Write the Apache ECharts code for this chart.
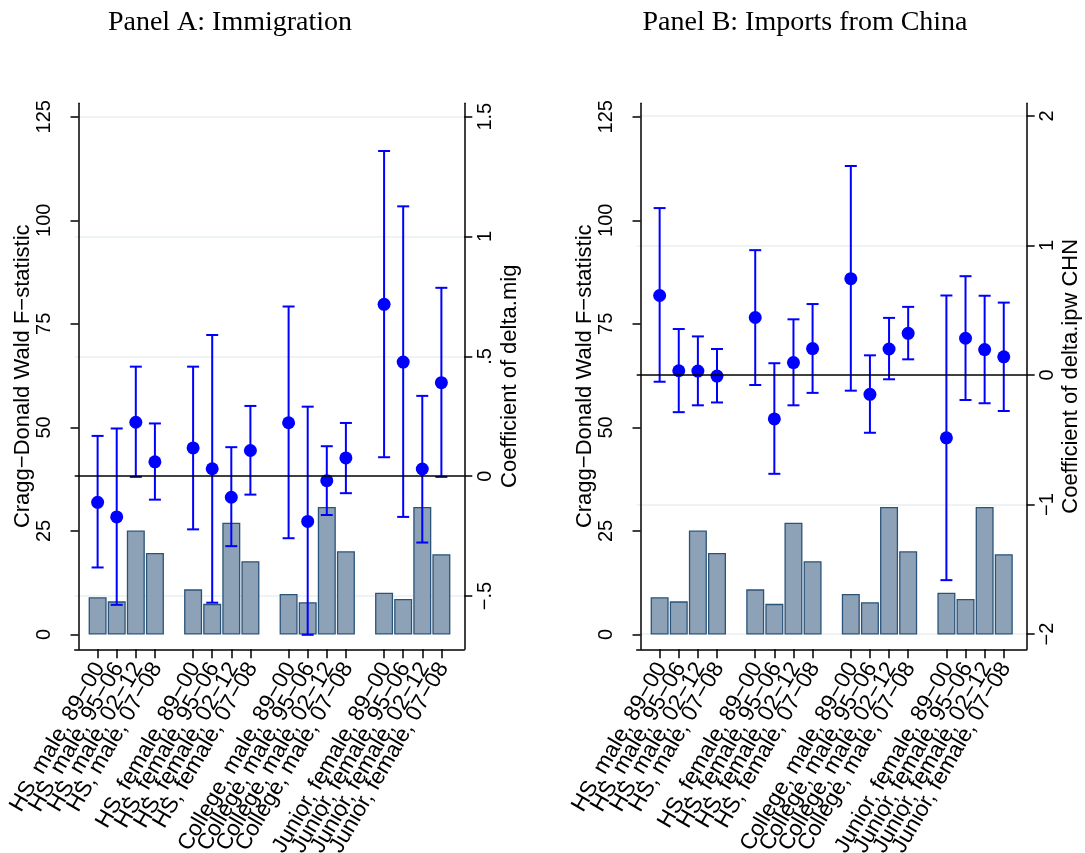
<!DOCTYPE html>
<html>
<head>
<meta charset="utf-8">
<script src="https://cdn.jsdelivr.net/npm/echarts@6.0.0/dist/echarts.min.js"></script>
<style>
  html, body { margin: 0; padding: 0; background: #fff; }
  #main { width: 1085px; height: 853px; }
</style>
</head>
<body>
<div id="main"></div>
<script>
// x positions of the 16 regressions (one empty slot between groups)
const slots = [1, 2, 3, 4, 6, 7, 8, 9, 11, 12, 13, 14, 16, 17, 18, 19];
const groups = ['HS, male', 'HS, female', 'College, male', 'Junior, female'];
const periods = ['89−00', '95−06', '02−12', '07−08'];

// first stage F statistic (same in both panels)
const fStat = [9.0, 8.0, 25.1, 19.7, 10.9, 7.4, 27.0, 17.7, 9.8, 7.8, 30.8, 20.1, 10.1, 8.6, 30.8, 19.4];

// Panel A: coefficient of delta.mig with 95% CI
const coefA = [-0.109, -0.170, 0.225, 0.060, 0.118, 0.031, -0.088, 0.107, 0.223, -0.189, -0.019, 0.076, 0.717, 0.476, 0.030, 0.390];
const loA = [-0.381, -0.537, -0.003, -0.098, -0.222, -0.528, -0.292, -0.077, -0.259, -0.662, -0.162, -0.071, 0.079, -0.170, -0.277, -0.003];
const hiA = [0.168, 0.199, 0.457, 0.220, 0.457, 0.589, 0.121, 0.293, 0.708, 0.290, 0.125, 0.222, 1.357, 1.126, 0.335, 0.786];

// Panel B: coefficient of delta.ipw CHN with 95% CI
const coefB = [0.614, 0.033, 0.030, -0.008, 0.444, -0.339, 0.096, 0.204, 0.744, -0.149, 0.201, 0.322, -0.485, 0.284, 0.196, 0.140];
const loB = [-0.052, -0.287, -0.234, -0.212, -0.077, -0.763, -0.234, -0.138, -0.121, -0.446, -0.033, 0.121, -1.584, -0.193, -0.218, -0.278];
const hiB = [1.289, 0.355, 0.298, 0.201, 0.964, 0.091, 0.430, 0.548, 1.614, 0.152, 0.441, 0.526, 0.614, 0.763, 0.612, 0.559];

const fTicks = [0, 25, 50, 75, 100, 125];
const coefTicksA = [-0.5, 0, 0.5, 1, 1.5];
const coefTicksB = [-2, -1, 0, 1, 2];

const labels = {};
slots.forEach((s, i) => {
  labels[s] = groups[Math.floor(i / 4)] + ', ' + periods[i % 4];
});

const SANS = '"Liberation Sans", Arial, sans-serif';
const SERIF = '"Liberation Serif", "Times New Roman", serif';
const BLUE = '#0000ff';

// stata style number labels: .5, −.5
function stataNum(v) {
  let s = String(Math.abs(v)).replace(/^0\./, '.');
  return (v < 0 ? '−' : '') + s;
}

function xAxisFor(gridIndex) {
  return {
    type: 'value', gridIndex: gridIndex, min: -0.2, max: 20.2,
    axisLine: { show: true, onZero: false, lineStyle: { color: '#000', width: 1.5 } },
    axisTick: { show: true, length: 9, customValues: slots, lineStyle: { color: '#000', width: 1.5 } },
    axisLabel: { show: false },  // drawn by the label series below, so none get hidden
    splitLine: { show: false }
  };
}

function fAxisFor(gridIndex, gap) {
  return {
    type: 'value', gridIndex: gridIndex, position: 'left', min: -3.57, max: 128.24,
    name: 'Cragg−Donald Wald F−statistic', nameLocation: 'middle', nameGap: gap, nameRotate: 90,
    nameTextStyle: { fontFamily: SANS, fontSize: 22, color: '#000' },
    axisLine: { show: true, lineStyle: { color: '#000', width: 1.5 } },
    axisTick: { show: true, length: 8, customValues: fTicks, lineStyle: { color: '#000', width: 1.5 } },
    axisLabel: { customValues: fTicks, rotate: 90, margin: 20, showMinLabel: true, showMaxLabel: true, fontFamily: SANS, fontSize: 20, color: '#000' },
    splitLine: { show: false }
  };
}

function coefAxisFor(gridIndex, min, max, ticks, name, gap) {
  return {
    type: 'value', gridIndex: gridIndex, position: 'right', min: min, max: max,
    name: name, nameLocation: 'middle', nameGap: gap, nameRotate: 90,
    nameTextStyle: { fontFamily: SANS, fontSize: 22, color: '#000' },
    axisLine: { show: true, lineStyle: { color: '#000', width: 1.5 } },
    axisTick: { show: true, length: 8, customValues: ticks, lineStyle: { color: '#000', width: 1.5 } },
    axisLabel: { customValues: ticks, rotate: 90, margin: 11, showMinLabel: true, showMaxLabel: true, fontFamily: SANS, fontSize: 20, color: '#000', formatter: stataNum },
    splitLine: { show: false }
  };
}

function renderErr(params, api) {
  const x = api.value(0);
  const p1 = api.coord([x, api.value(1)]);
  const p2 = api.coord([x, api.value(2)]);
  const cap = 6;
  const st = { stroke: BLUE, lineWidth: 2 };
  return {
    type: 'group',
    children: [
      { type: 'line', shape: { x1: p1[0], y1: p1[1], x2: p2[0], y2: p2[1] }, style: st },
      { type: 'line', shape: { x1: p1[0] - cap, y1: p1[1], x2: p1[0] + cap, y2: p1[1] }, style: st },
      { type: 'line', shape: { x1: p2[0] - cap, y1: p2[1], x2: p2[0] + cap, y2: p2[1] }, style: st }
    ]
  };
}

// rotated category labels under the x axis
function renderLabel(params, api) {
  const s = api.value(0);
  const pt = api.coord([s, 0]);
  const bottom = params.coordSys.y + params.coordSys.height;
  return {
    type: 'text', x: pt[0] + 2, y: bottom + 15, rotation: Math.PI / 3, silent: true,
    style: { text: labels[s], align: 'right', verticalAlign: 'middle', fontFamily: SANS, fontSize: 22.5, fill: '#000' }
  };
}

function panelSeries(xIdx, fIdx, cIdx, coef, lo, hi, gridTicks) {
  return [
    {
      // light grid lines at coefficient ticks, behind everything
      type: 'line', xAxisIndex: xIdx, yAxisIndex: cIdx, data: [], z: 0, silent: true,
      markLine: {
        silent: true, symbol: 'none', label: { show: false }, z: 0,
        lineStyle: { color: '#e8f0f1', width: 1.5, type: 'solid' },
        data: gridTicks.filter(v => v !== 0).map(v => ({ yAxis: v }))
      }
    },
    {
      type: 'bar', xAxisIndex: xIdx, yAxisIndex: fIdx, barWidth: 18, z: 2,
      data: slots.map((s, i) => [s, fStat[i]]),
      itemStyle: { color: '#8ea2b7', borderColor: '#2a5379', borderWidth: 1.3 }
    },
    {
      type: 'custom', xAxisIndex: xIdx, yAxisIndex: cIdx, z: 3,
      renderItem: renderErr,
      encode: { x: 0, y: [1, 2] },
      data: slots.map((s, i) => [s, lo[i], hi[i]])
    },
    {
      type: 'scatter', xAxisIndex: xIdx, yAxisIndex: cIdx, z: 4,
      symbolSize: 13, itemStyle: { color: BLUE, opacity: 1 },
      data: slots.map((s, i) => [s, coef[i]]),
      markLine: {
        silent: true, symbol: 'none', label: { show: false },
        lineStyle: { color: '#000', width: 1.5, type: 'solid' },
        data: [{ yAxis: 0 }]
      }
    },
    {
      type: 'custom', xAxisIndex: xIdx, yAxisIndex: fIdx, z: 5, silent: true, clip: false,
      renderItem: renderLabel,
      encode: { x: 0, y: 1 },
      data: slots.map(s => [s, 0])
    }
  ];
}

const chart = echarts.init(document.getElementById('main'));
chart.setOption({
  animation: false,
  backgroundColor: '#fff',
  graphic: [
    { type: 'text', x: 230, y: 23, style: { text: 'Panel A: Immigration', font: '28px ' + SERIF, fill: '#000', textAlign: 'center', textVerticalAlign: 'middle' } },
    { type: 'text', x: 805, y: 23, style: { text: 'Panel B: Imports from China', font: '28px ' + SERIF, fill: '#000', textAlign: 'center', textVerticalAlign: 'middle' } }
  ],
  grid: [
    { left: 74.7, top: 103.3, width: 389.6, height: 546, containLabel: false, outerBoundsMode: 'none' },
    { left: 636.7, top: 103.3, width: 390, height: 546, containLabel: false, outerBoundsMode: 'none' }
  ],
  xAxis: [xAxisFor(0), xAxisFor(1)],
  yAxis: [
    fAxisFor(0, 40),
    coefAxisFor(0, -0.7225, 1.556, coefTicksA, 'Coefficient of delta.mig', 35),
    fAxisFor(1, 38),
    coefAxisFor(1, -2.118, 2.098, coefTicksB, 'Coefficient of delta.ipw CHN', 33)
  ],
  series: [].concat(
    panelSeries(0, 0, 1, coefA, loA, hiA, coefTicksA),
    panelSeries(1, 2, 3, coefB, loB, hiB, coefTicksB)
  )
});
</script>
</body>
</html>
